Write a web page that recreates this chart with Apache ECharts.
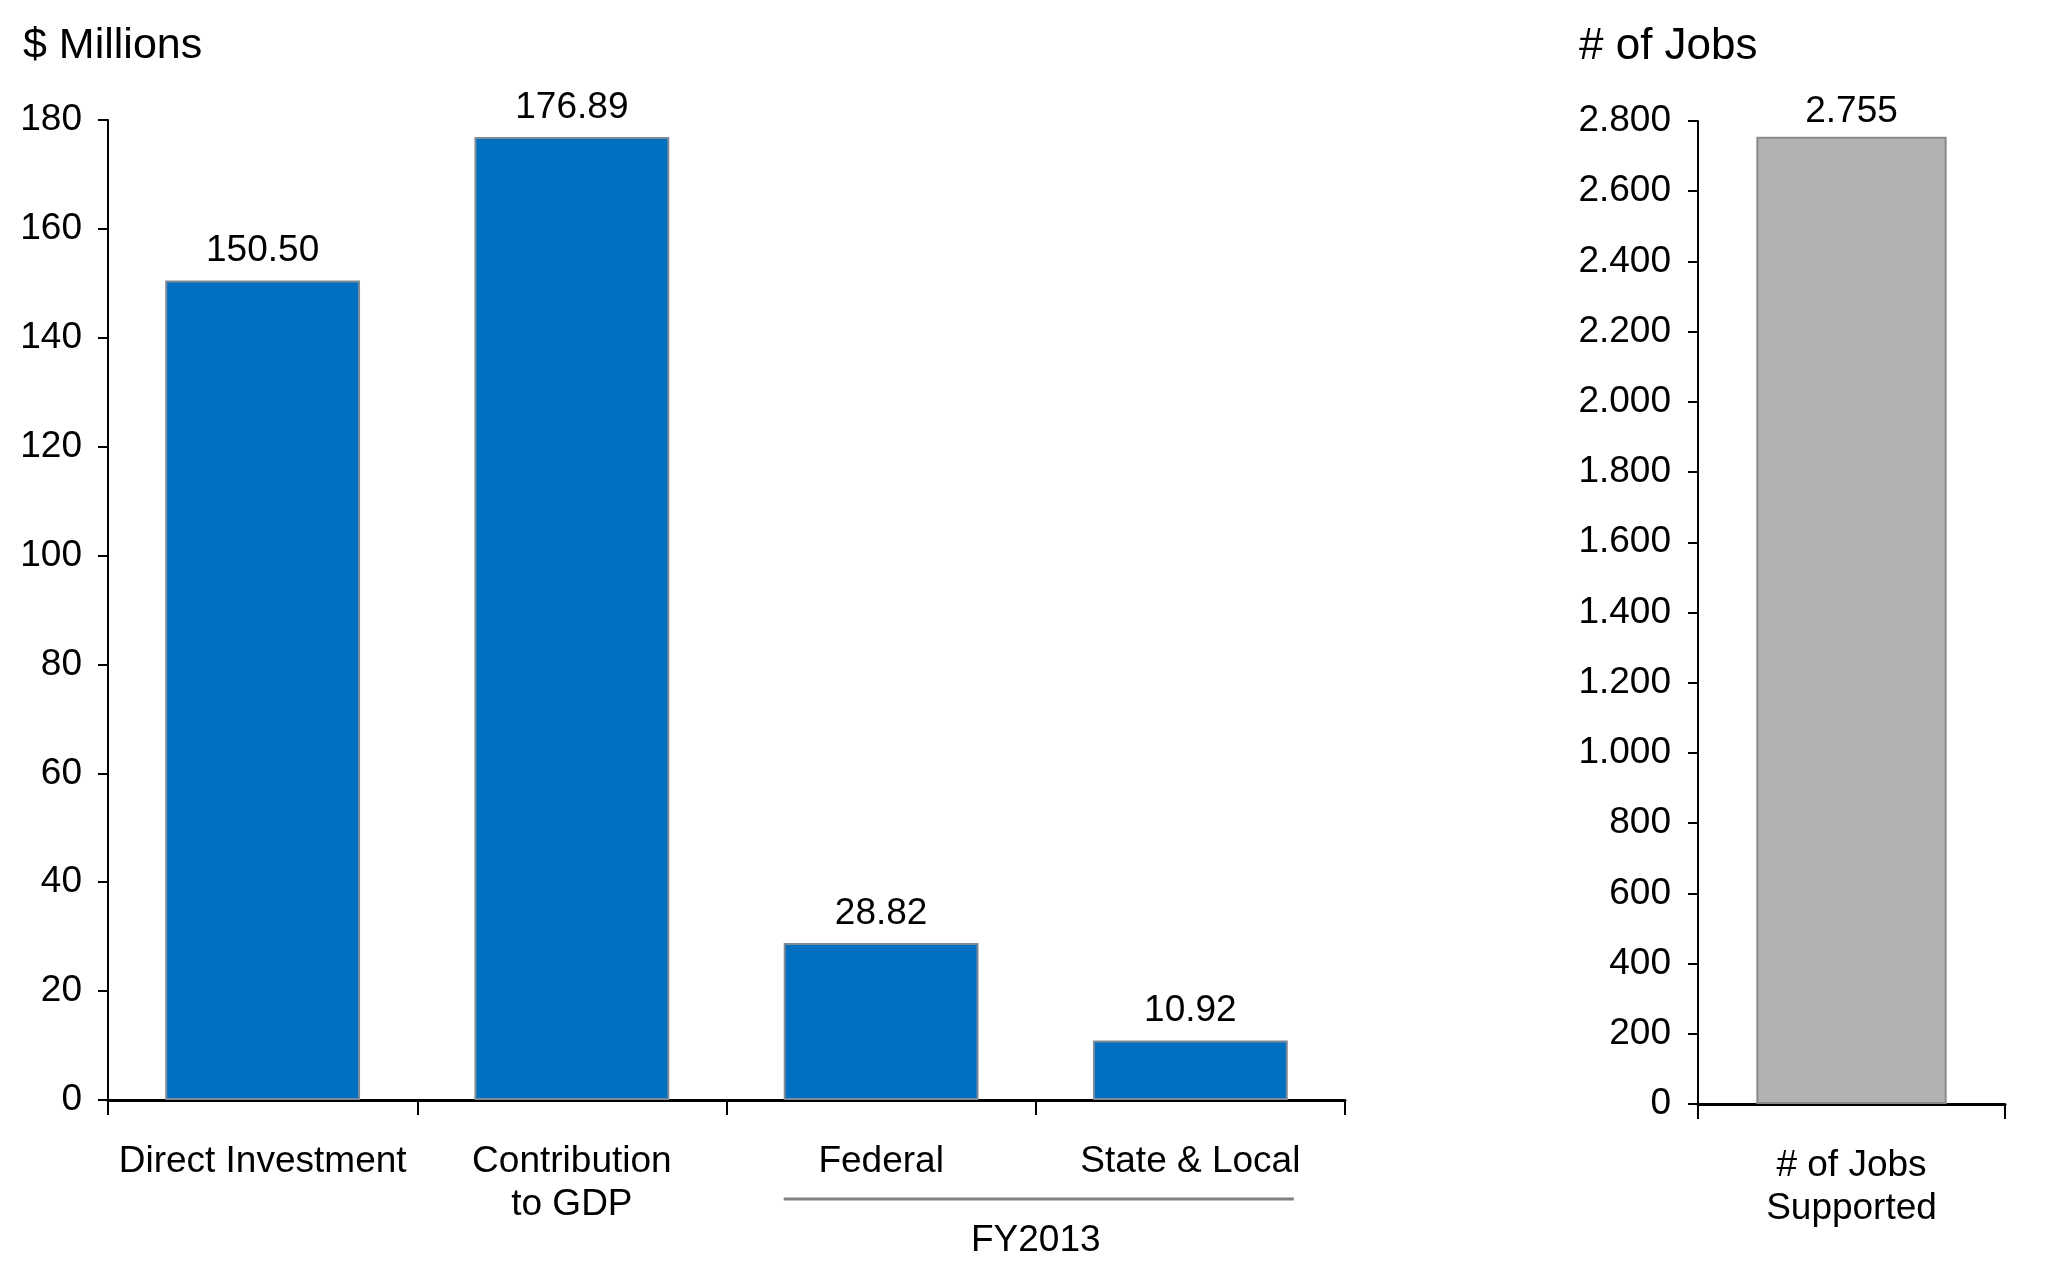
<!DOCTYPE html>
<html>
<head>
<meta charset="utf-8">
<script src="https://cdn.jsdelivr.net/npm/echarts@6/dist/echarts.min.js"></script>
<style>
html,body{margin:0;padding:0;background:#fff;}
#c{width:2048px;height:1271px;}
</style>
</head>
<body>
<div id="c"></div>
<script>
const categories = ['Direct Investment', 'Contribution\nto GDP', 'Federal', 'State & Local'];
const millionsValues = [150.50, 176.89, 28.82, 10.92];
const millionsLabels = ['150.50', '176.89', '28.82', '10.92'];
const jobsCategories = ['# of Jobs\nSupported'];
const jobsValues = [2755];
const groupLabel = 'FY2013';
const groupedCategories = ['Federal', 'State & Local'];

function dotThousands(v) {
  const s = String(Math.round(v));
  return s.replace(/\B(?=(\d{3})+(?!\d))/g, '.');
}

const FONT = '"Liberation Sans", Arial, sans-serif';
const chart = echarts.init(document.getElementById('c'));

const axisLabelStyle = { color: '#000', fontFamily: FONT, fontSize: 37 };

const option = {
  backgroundColor: '#ffffff',
  animation: false,
  title: [
    { text: '$ Millions', left: 18, top: 20, textStyle: { fontFamily: FONT, fontSize: 43, fontWeight: 'normal', color: '#000' } },
    { text: '# of Jobs', left: 1574, top: 20, textStyle: { fontFamily: FONT, fontSize: 44, fontWeight: 'normal', color: '#000' } }
  ],
  grid: [
    { left: 108, right: 703, top: 120, bottom: 171 },
    { left: 1698, right: 43, top: 121, bottom: 167 }
  ],
  xAxis: [
    {
      type: 'category', gridIndex: 0, data: categories,
      axisLine: { lineStyle: { color: '#000', width: 3 } },
      axisTick: { show: true, length: 15, lineStyle: { color: '#000', width: 2 } },
      axisLabel: Object.assign({ margin: 40, lineHeight: 43, interval: 0 }, axisLabelStyle)
    },
    {
      type: 'category', gridIndex: 1, data: jobsCategories,
      axisLine: { lineStyle: { color: '#000', width: 3 } },
      axisTick: { show: true, length: 15, lineStyle: { color: '#000', width: 2 } },
      axisLabel: Object.assign({ margin: 40, lineHeight: 43, interval: 0 }, axisLabelStyle)
    }
  ],
  yAxis: [
    {
      type: 'value', gridIndex: 0, min: 0, max: 180, interval: 20,
      axisLine: { show: true, lineStyle: { color: '#000', width: 2 } },
      axisTick: { show: true, length: 10, lineStyle: { color: '#000', width: 2 } },
      splitLine: { show: false },
      axisLabel: Object.assign({ margin: 26 }, axisLabelStyle)
    },
    {
      type: 'value', gridIndex: 1, min: 0, max: 2800, interval: 200,
      axisLine: { show: true, lineStyle: { color: '#000', width: 2 } },
      axisTick: { show: true, length: 10, lineStyle: { color: '#000', width: 2 } },
      splitLine: { show: false },
      axisLabel: Object.assign({ margin: 27, formatter: v => dotThousands(v) }, axisLabelStyle)
    }
  ],
  series: [
    {
      type: 'bar', xAxisIndex: 0, yAxisIndex: 0, data: millionsValues,
      barWidth: '63%',
      itemStyle: { color: '#0070C0', borderColor: '#7f8a99', borderWidth: 2 },
      label: { show: true, position: 'top', distance: 11, color: '#000', fontFamily: FONT, fontSize: 37,
        formatter: p => millionsLabels[p.dataIndex] }
    },
    {
      type: 'bar', xAxisIndex: 1, yAxisIndex: 1, data: jobsValues,
      barWidth: '62%',
      itemStyle: { color: '#b2b2b2', borderColor: '#8a8a8a', borderWidth: 2 },
      label: { show: true, position: 'top', distance: 7, color: '#000', fontFamily: FONT, fontSize: 37,
        formatter: p => dotThousands(p.value) }
    }
  ]
};
chart.setOption(option);

// group bracket under the FY2013 categories
const i0 = categories.indexOf(groupedCategories[0]);
const i1 = categories.indexOf(groupedCategories[1]);
const c0 = chart.convertToPixel({ xAxisIndex: 0 }, categories[i0]);
const c1 = chart.convertToPixel({ xAxisIndex: 0 }, categories[i1]);
const step = c1 - c0;
const half = step * 0.63 / 2;
const yBase = chart.convertToPixel({ yAxisIndex: 0 }, 0);
chart.setOption({
  graphic: [
    { type: 'line', shape: { x1: c0 - half, y1: yBase + 99, x2: c1 + half + 6, y2: yBase + 99 },
      style: { stroke: '#808080', lineWidth: 3 } },
    { type: 'text', x: (c0 + c1) / 2, y: yBase + 141,
      style: { text: groupLabel, fill: '#000', font: '37px ' + FONT, textAlign: 'center', textVerticalAlign: 'middle' } }
  ]
});
</script>
</body>
</html>
